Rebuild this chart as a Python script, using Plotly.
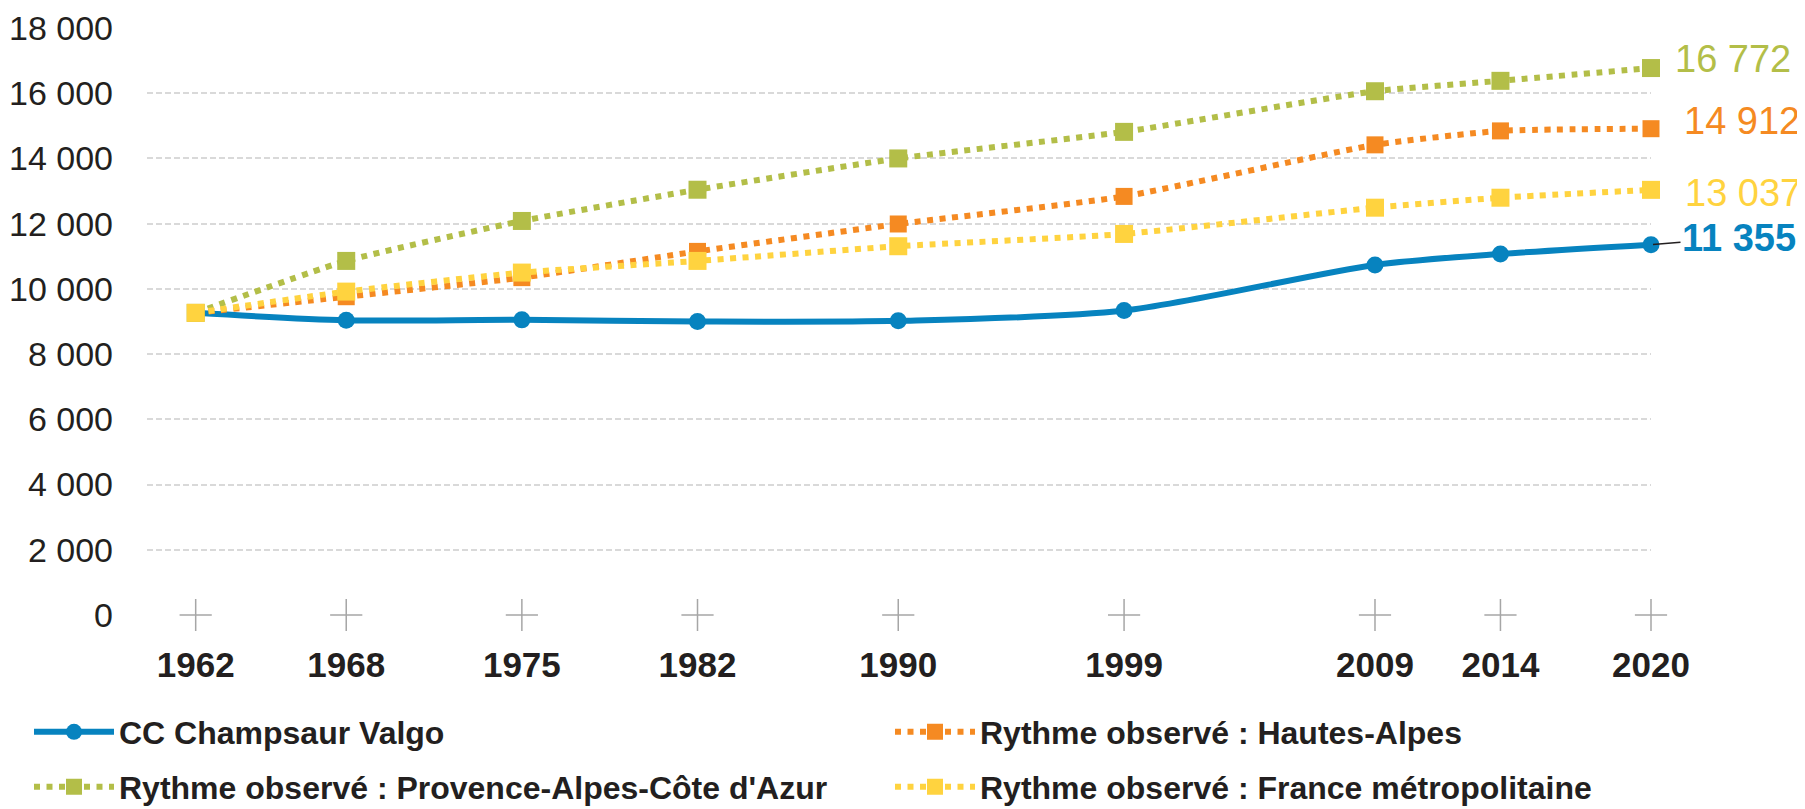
import plotly.graph_objects as go

years = [1962, 1968, 1975, 1982, 1990, 1999, 2009, 2014, 2020]
year_labels = ["1962", "1968", "1975", "1982", "1990", "1999", "2009", "2014", "2020"]

cc_valgo = [9265, 9040, 9050, 9000, 9020, 9335, 10735, 11070, 11355]
hautes_alpes = [9265, 9760, 10345, 11150, 11990, 12836, 14417, 14845, 14912]
paca = [9265, 10858, 12083, 13041, 14000, 14815, 16061, 16380, 16772]
france = [9265, 9917, 10500, 10858, 11308, 11685, 12490, 12796, 13037]

y_ticks = [0, 2000, 4000, 6000, 8000, 10000, 12000, 14000, 16000, 18000]
y_tick_labels = ["0", "2 000", "4 000", "6 000", "8 000", "10 000", "12 000", "14 000", "16 000", "18 000"]

names = ["CC Champsaur Valgo", "Rythme observé : Hautes-Alpes",
         "Rythme observé : Provence-Alpes-Côte d'Azur", "Rythme observé : France métropolitaine"]
end_labels = ["11 355", "14 912", "16 772", "13 037"]

BLUE = "#0783bf"
ORANGE = "#f58a22"
GREEN = "#b3be48"
YELLOW = "#ffd33f"
TXT = "#231f20"
FONT = "Liberation Sans, Arial, sans-serif"

fig = go.Figure()

# axis crosses at each year on the zero line
fig.add_trace(go.Scatter(
    x=years, y=[0] * len(years), mode="markers", showlegend=False, hoverinfo="skip",
    marker=dict(symbol="cross-thin-open", size=23, color="#a6a6a6",
                line=dict(color="#a6a6a6", width=1.5)),
    cliponaxis=False))

fig.add_trace(go.Scatter(
    x=years, y=cc_valgo, name=names[0], mode="lines+markers", legend="legend",
    line=dict(color=BLUE, width=6, shape="spline", smoothing=0.8),
    marker=dict(symbol="circle", size=17, color=BLUE), cliponaxis=False))

fig.add_trace(go.Scatter(
    x=years, y=hautes_alpes, name=names[1], mode="lines+markers", legend="legend2",
    line=dict(color=ORANGE, width=6, dash="6px,6.5px", shape="spline", smoothing=0.5),
    marker=dict(symbol="square", size=17, color=ORANGE), cliponaxis=False))

fig.add_trace(go.Scatter(
    x=years, y=paca, name=names[2], mode="lines+markers", legend="legend3",
    line=dict(color=GREEN, width=6, dash="6px,6.5px", shape="spline", smoothing=0.5),
    marker=dict(symbol="square", size=18, color=GREEN), cliponaxis=False))

fig.add_trace(go.Scatter(
    x=years, y=france, name=names[3], mode="lines+markers", legend="legend4",
    line=dict(color=YELLOW, width=6, dash="6px,6.5px", shape="spline", smoothing=0.5),
    marker=dict(symbol="square", size=18, color=YELLOW), cliponaxis=False))

# end labels
fig.add_annotation(x=years[-1], y=paca[-1], text=end_labels[2], showarrow=False,
                   xanchor="left", yanchor="middle", xshift=22, yshift=9,
                   font=dict(family=FONT, size=38, color=GREEN))
fig.add_annotation(x=years[-1], y=hautes_alpes[-1], text=end_labels[1], showarrow=False,
                   xanchor="left", yanchor="middle", xshift=31, yshift=8,
                   font=dict(family=FONT, size=38, color=ORANGE))
fig.add_annotation(x=years[-1], y=france[-1], text=end_labels[3], showarrow=False,
                   xanchor="left", yanchor="middle", xshift=32, yshift=-3,
                   font=dict(family=FONT, size=38, color=YELLOW))
fig.add_annotation(x=years[-1], y=cc_valgo[-1], text="<b>" + end_labels[0] + "</b>",
                   showarrow=True, arrowhead=0, arrowwidth=1.5, arrowcolor=TXT,
                   ax=88, ay=-7, standoff=2,
                   font=dict(family=FONT, size=38, color=BLUE))

legend_common = dict(xref="container", yref="container", xanchor="left", yanchor="middle",
                     font=dict(family=FONT, size=32, color=TXT, weight="bold"),
                     bgcolor="rgba(0,0,0,0)", itemwidth=80, borderwidth=0,
                     itemclick=False, itemdoubleclick=False)

fig.update_layout(
    width=1805, height=809,
    margin=dict(l=139, r=162, t=20, b=201.5, autoexpand=False),
    paper_bgcolor="white", plot_bgcolor="white",
    font=dict(family=FONT, color=TXT),
    xaxis=dict(range=[1960.06, 2020], tickvals=years, ticktext=year_labels,
               showgrid=False, zeroline=False, showline=False, ticks="",
               automargin=False, tickangle=0,
               tickfont=dict(family=FONT, size=35, color=TXT, weight="bold"),
               ticklabelstandoff=26),
    yaxis=dict(range=[0, 18000], tickvals=y_ticks, ticktext=y_tick_labels,
               showgrid=True, gridcolor="#d9d9d9", gridwidth=2, griddash="6px,3px",
               zeroline=False, showline=False, ticks="", automargin=False,
               tickfont=dict(family=FONT, size=34, color=TXT),
               ticklabelstandoff=33),
    legend=dict(x=21 / 1805, y=1 - 724 / 809, **legend_common),
    legend2=dict(x=882 / 1805, y=1 - 724 / 809, **legend_common),
    legend3=dict(x=21 / 1805, y=1 - 779 / 809, **legend_common),
    legend4=dict(x=882 / 1805, y=1 - 779 / 809, **legend_common),
    showlegend=True,
)

fig.write_html("out.html")
